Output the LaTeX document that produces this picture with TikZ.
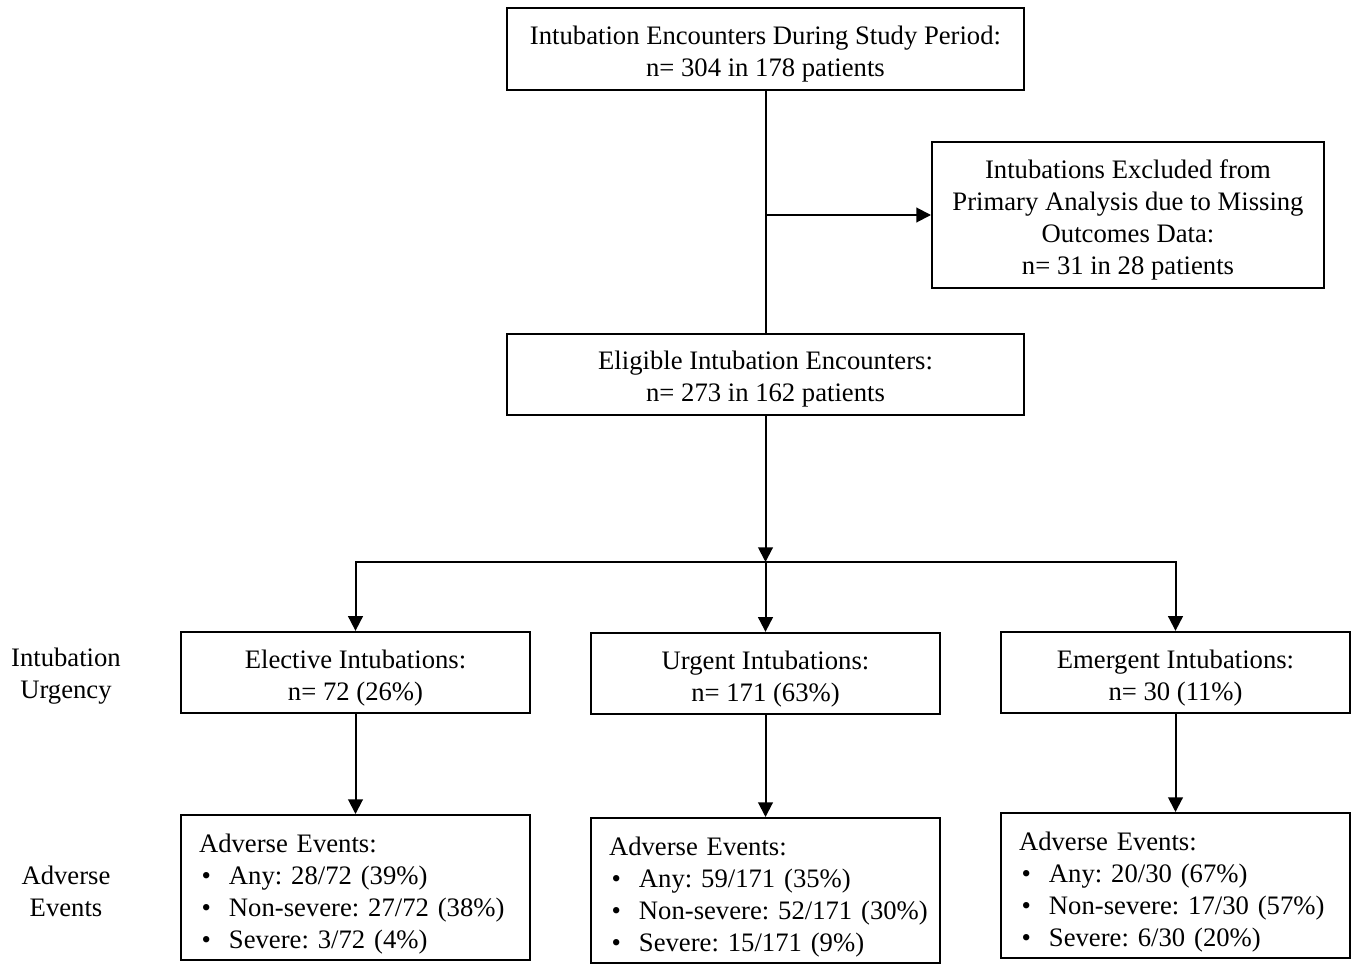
\documentclass[tikz,border=0pt]{standalone}
\usepackage{fontspec}
\setmainfont{Liberation Serif}
\usetikzlibrary{arrows.meta}
\frenchspacing

\tikzset{
  box/.style={draw,line width=1.5pt,inner sep=0pt,align=center,
    font=\fontsize{20}{24}\selectfont},
  wide/.style={box,minimum width=387.75pt,minimum height=61pt},
  arm/.style={box,minimum width=261.75pt,minimum height=61pt},
  events/.style={box,minimum width=261.75pt,minimum height=108.75pt,
    align=left,text width=234.75pt,inner xsep=13.5pt,
    execute at begin node={\rule{0pt}{23.5pt}}},
  rowlabel/.style={align=center,font=\fontsize{20}{24}\selectfont},
  arr/.style={line width=1.5pt,-{Triangle[length=11pt,width=11pt]}},
  ln/.style={line width=1.5pt}
}
\newcommand{\bul}[1]{\hspace*{2pt}\makebox[20.5pt][l]{\textbullet}\mbox{#1}}
\newcommand{\tstrut}{\rule{0pt}{21.5pt}}

\begin{document}
\begin{tikzpicture}[x=0.75pt,y=-0.75pt]
 	 	\useasboundingbox (0,0) rectangle (1355,963);

 	 	\node[wide] (enc) at (765.5,49) {\tstrut Intubation Encounters During Study Period:\\n= 304 in 178 patients};
 	 	\node[box,minimum width=294pt,minimum height=109.5pt] (exc) at (1128,215) {\tstrut Intubations Excluded from\\Primary Analysis due to Missing\\Outcomes Data:\\n= 31 in 28 patients};
 	 	\node[wide] (elig) at (765.5,374.5) {\tstrut Eligible Intubation Encounters:\\n= 273 in 162 patients};

 	 	\node[arm] (elec) at (355.5,672.5) {\tstrut Elective Intubations:\\n= 72 (26\%)};
 	 	\node[arm] (urg) at (765.5,673.5) {\tstrut Urgent Intubations:\\n= 171 (63\%)};
 	 	\node[arm] (emer) at (1175.5,672.5) {\tstrut Emergent Intubations:\\n= 30 (11\%)};

 	 	\node[events] (ae1) at (355.5,887.5) {Adverse Events:\\\bul{Any: 28/72 (39\%)}\\\bul{Non-severe: 27/72 (38\%)}\\\bul{Severe: 3/72 (4\%)}};
 	 	\node[events] (ae2) at (765.5,890.5) {Adverse Events:\\\bul{Any: 59/171 (35\%)}\\\bul{Non-severe: 52/171 (30\%)}\\\bul{Severe: 15/171 (9\%)}};
 	 	\node[events] (ae3) at (1175.5,885.5) {Adverse Events:\\\bul{Any: 20/30 (67\%)}\\\bul{Non-severe: 17/30 (57\%)}\\\bul{Severe: 6/30 (20\%)}};

 	 	\node[rowlabel] (urgency) at (66,676) {Intubation\\Urgency};
 	 	\node[rowlabel] (adverse) at (66,891) {Adverse\\Events};

 	 	\coordinate (branch) at (enc.south |- exc.west);
 	 	\coordinate (split) at (765.5,562);

 	 	\draw[ln] (enc) -- (elig);
 	 	\draw[arr] (branch) -- (exc);
 	 	\draw[arr] (elig) -- (split);
 	 	\draw[arr] (split) -| (elec);
 	 	\draw[arr] (split) -- (urg);
 	 	\draw[arr] (split) -| (emer);
 	 	\draw[arr] (elec) -- (ae1);
 	 	\draw[arr] (urg) -- (ae2);
 	 	\draw[arr] (emer) -- (ae3);
\end{tikzpicture}
\end{document}
